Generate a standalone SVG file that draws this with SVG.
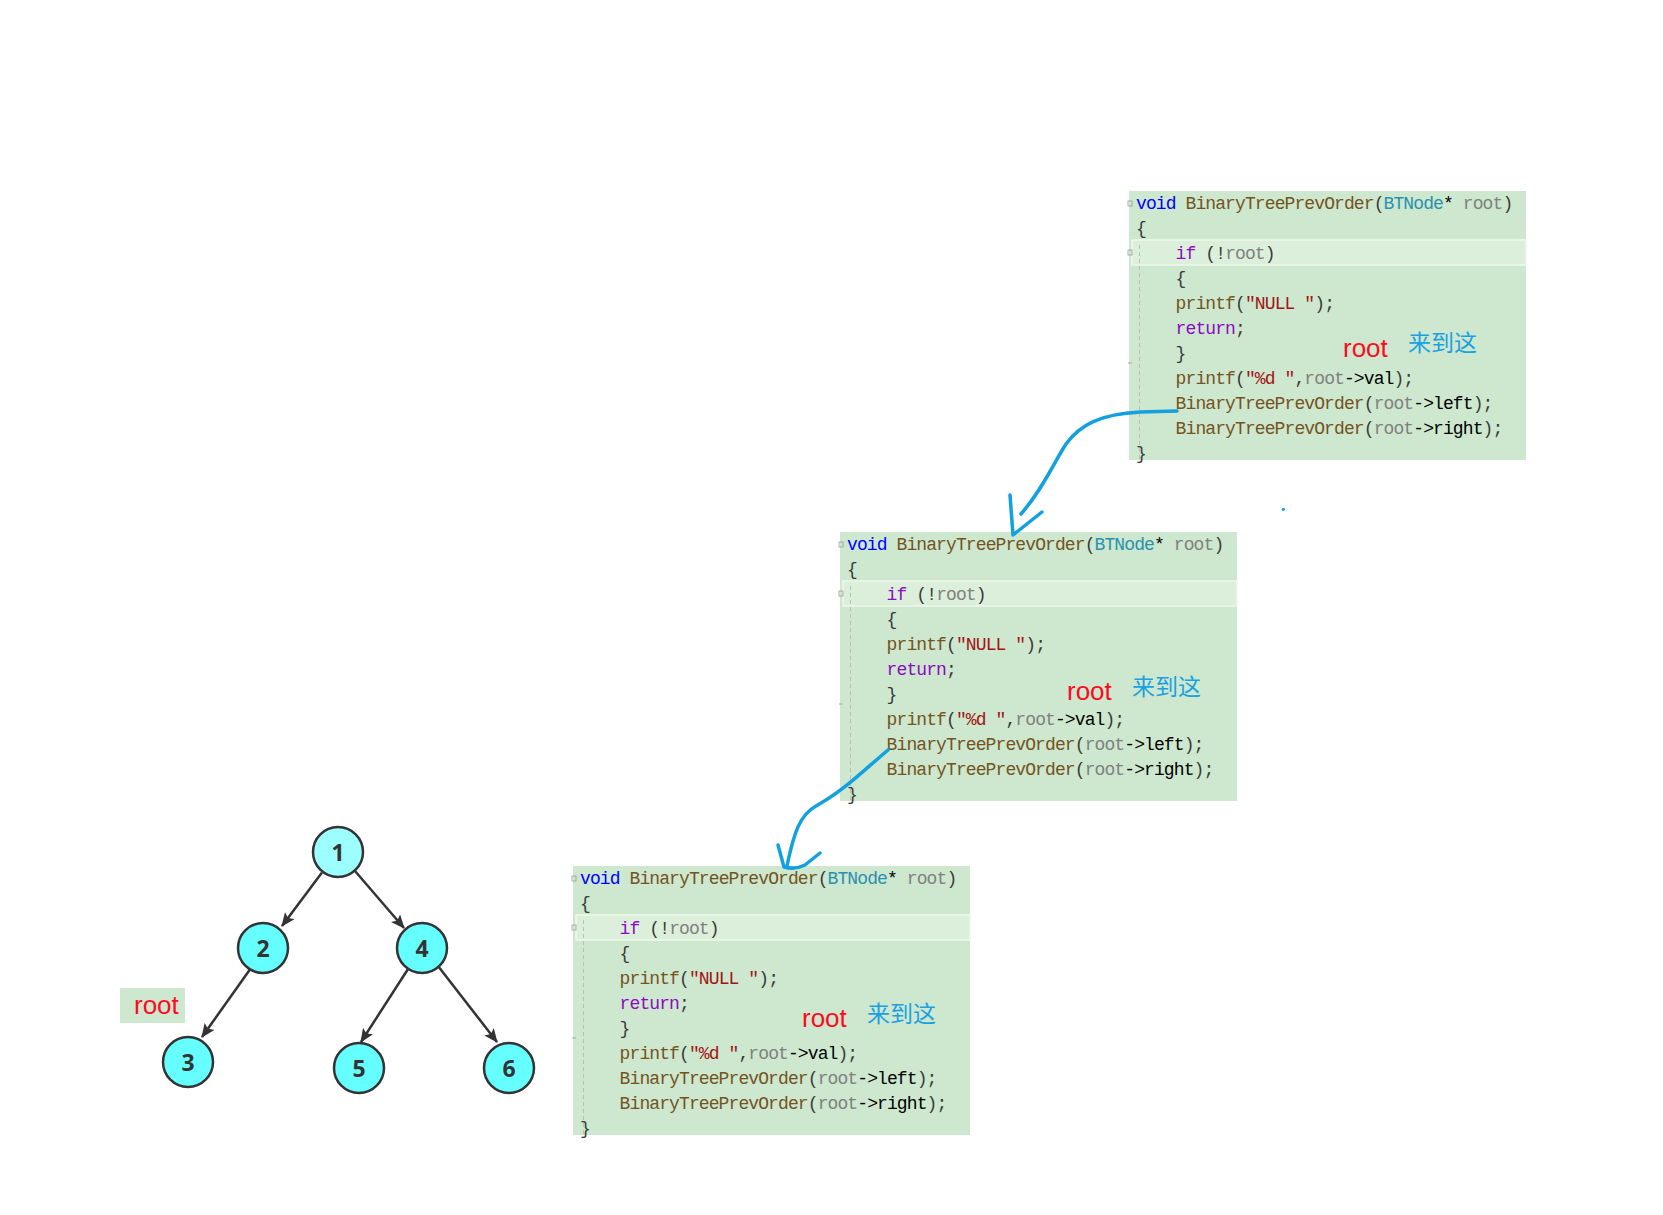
<svg xmlns="http://www.w3.org/2000/svg" width="1663" height="1215" viewBox="0 0 1663 1215">
<style>
.bg{fill:#cde8ce}
.hl{fill:#dcefdb;stroke:#eef7ec;stroke-width:1.5}
.guide{stroke:#bdbdbd;stroke-width:1;stroke-dasharray:4 3}
.fold{fill:none;stroke:#9a9a9a;stroke-width:0.8}
.code{font-family:"Liberation Mono",monospace;font-size:18px;letter-spacing:-0.9px;fill:#3a3a3a}
.kw{fill:#0000ff}
.ctl{fill:#8f08c4}
.fn{fill:#74531f}
.ty{fill:#2b91af}
.pr{fill:#808080}
.st{fill:#a31515}
.blk{fill:#000}
.rt{font-family:"Liberation Sans",Arial,sans-serif;font-size:26px;fill:#ff0a1e}
.cn{font-family:"Noto Sans CJK SC",sans-serif;font-size:23px;fill:#1ba1e2}
.node{stroke:#333;stroke-width:2.5}
.num{font-family:"Open Sans",sans-serif;font-weight:700;font-size:23px;fill:#333;text-anchor:middle}
.edge{stroke:#333;stroke-width:2.5;fill:none}
.pen{stroke:#12a0e0;stroke-width:3.5;fill:none;stroke-linecap:round;stroke-linejoin:round}
</style>
<defs>
<marker id="ah" markerUnits="userSpaceOnUse" markerWidth="14" markerHeight="12" refX="13" refY="6" orient="auto">
<path d="M0,0 L14,6 L0,12 L3,6 z" fill="#333"/>
</marker>
</defs>
<rect width="1663" height="1215" fill="#ffffff"/>

<g id="frame1" transform="translate(1129,191)">
<rect class="bg" width="397" height="269"/>
<rect class="hl" x="3" y="49" width="394" height="25"/>
<line class="guide" x1="10.5" y1="54" x2="10.5" y2="269"/>
<rect class="fold" x="-1" y="10" width="4" height="5"/>
<rect class="fold" x="-1" y="59" width="4" height="5"/>
<line class="fold" x1="-1" y1="172" x2="3" y2="172"/>
<text class="code" x="7" y="18"><tspan class="kw">void</tspan> <tspan class="fn">BinaryTreePrevOrder</tspan>(<tspan class="ty">BTNode</tspan><tspan class="blk">*</tspan> <tspan class="pr">root</tspan>)</text>
<text class="code" x="7" y="43">{</text>
<text class="code" x="46.6" y="68"><tspan class="ctl">if</tspan> (!<tspan class="pr">root</tspan>)</text>
<text class="code" x="46.6" y="93">{</text>
<text class="code" x="46.6" y="118"><tspan class="fn">printf</tspan>(<tspan class="st">"NULL "</tspan>);</text>
<text class="code" x="46.6" y="143"><tspan class="ctl">return</tspan>;</text>
<text class="code" x="46.6" y="168">}</text>
<text class="code" x="46.6" y="193"><tspan class="fn">printf</tspan>(<tspan class="st">"%d "</tspan>,<tspan class="pr">root</tspan><tspan class="blk">-&gt;val</tspan>);</text>
<text class="code" x="46.6" y="218"><tspan class="fn">BinaryTreePrevOrder</tspan>(<tspan class="pr">root</tspan><tspan class="blk">-&gt;left</tspan>);</text>
<text class="code" x="46.6" y="243"><tspan class="fn">BinaryTreePrevOrder</tspan>(<tspan class="pr">root</tspan><tspan class="blk">-&gt;right</tspan>);</text>
<text class="code" x="7" y="268">}</text>
<text class="rt" x="214" y="166">root</text>
<text class="cn" x="279" y="160">来到这</text>
</g>

<g id="frame2" transform="translate(840,532)">
<rect class="bg" width="397" height="269"/>
<rect class="hl" x="3" y="49" width="394" height="25"/>
<line class="guide" x1="10.5" y1="54" x2="10.5" y2="269"/>
<rect class="fold" x="-1" y="10" width="4" height="5"/>
<rect class="fold" x="-1" y="59" width="4" height="5"/>
<line class="fold" x1="-1" y1="172" x2="3" y2="172"/>
<text class="code" x="7" y="18"><tspan class="kw">void</tspan> <tspan class="fn">BinaryTreePrevOrder</tspan>(<tspan class="ty">BTNode</tspan><tspan class="blk">*</tspan> <tspan class="pr">root</tspan>)</text>
<text class="code" x="7" y="43">{</text>
<text class="code" x="46.6" y="68"><tspan class="ctl">if</tspan> (!<tspan class="pr">root</tspan>)</text>
<text class="code" x="46.6" y="93">{</text>
<text class="code" x="46.6" y="118"><tspan class="fn">printf</tspan>(<tspan class="st">"NULL "</tspan>);</text>
<text class="code" x="46.6" y="143"><tspan class="ctl">return</tspan>;</text>
<text class="code" x="46.6" y="168">}</text>
<text class="code" x="46.6" y="193"><tspan class="fn">printf</tspan>(<tspan class="st">"%d "</tspan>,<tspan class="pr">root</tspan><tspan class="blk">-&gt;val</tspan>);</text>
<text class="code" x="46.6" y="218"><tspan class="fn">BinaryTreePrevOrder</tspan>(<tspan class="pr">root</tspan><tspan class="blk">-&gt;left</tspan>);</text>
<text class="code" x="46.6" y="243"><tspan class="fn">BinaryTreePrevOrder</tspan>(<tspan class="pr">root</tspan><tspan class="blk">-&gt;right</tspan>);</text>
<text class="code" x="7" y="268">}</text>
<text class="rt" x="227" y="168">root</text>
<text class="cn" x="292" y="163">来到这</text>
</g>

<g id="frame3" transform="translate(573,866)">
<rect class="bg" width="397" height="269"/>
<rect class="hl" x="3" y="49" width="394" height="25"/>
<line class="guide" x1="10.5" y1="54" x2="10.5" y2="269"/>
<rect class="fold" x="-1" y="10" width="4" height="5"/>
<rect class="fold" x="-1" y="59" width="4" height="5"/>
<line class="fold" x1="-1" y1="172" x2="3" y2="172"/>
<text class="code" x="7" y="18"><tspan class="kw">void</tspan> <tspan class="fn">BinaryTreePrevOrder</tspan>(<tspan class="ty">BTNode</tspan><tspan class="blk">*</tspan> <tspan class="pr">root</tspan>)</text>
<text class="code" x="7" y="43">{</text>
<text class="code" x="46.6" y="68"><tspan class="ctl">if</tspan> (!<tspan class="pr">root</tspan>)</text>
<text class="code" x="46.6" y="93">{</text>
<text class="code" x="46.6" y="118"><tspan class="fn">printf</tspan>(<tspan class="st">"NULL "</tspan>);</text>
<text class="code" x="46.6" y="143"><tspan class="ctl">return</tspan>;</text>
<text class="code" x="46.6" y="168">}</text>
<text class="code" x="46.6" y="193"><tspan class="fn">printf</tspan>(<tspan class="st">"%d "</tspan>,<tspan class="pr">root</tspan><tspan class="blk">-&gt;val</tspan>);</text>
<text class="code" x="46.6" y="218"><tspan class="fn">BinaryTreePrevOrder</tspan>(<tspan class="pr">root</tspan><tspan class="blk">-&gt;left</tspan>);</text>
<text class="code" x="46.6" y="243"><tspan class="fn">BinaryTreePrevOrder</tspan>(<tspan class="pr">root</tspan><tspan class="blk">-&gt;right</tspan>);</text>
<text class="code" x="7" y="268">}</text>
<text class="rt" x="229" y="161">root</text>
<text class="cn" x="294" y="156">来到这</text>
</g>

<g id="connectors">
<line class="edge" x1="322" y1="872.5" x2="282" y2="926" marker-end="url(#ah)"/>
<line class="edge" x1="355" y1="871" x2="404" y2="928" marker-end="url(#ah)"/>
<line class="edge" x1="251" y1="968" x2="202" y2="1037" marker-end="url(#ah)"/>
<line class="edge" x1="408" y1="969" x2="361" y2="1042" marker-end="url(#ah)"/>
<line class="edge" x1="438" y1="966" x2="497" y2="1042" marker-end="url(#ah)"/>
<path class="pen" d="M1177,411 L1140,412 C1100,414 1080,425 1066,444 C1052,466 1042,490 1021,514"/>
<path class="pen" d="M1010,495 L1013,535 L1042,512"/>
<path class="pen" d="M888,750 C862,772 842,792 816,806 C800,815 794,832 787,866"/>
<path class="pen" d="M778,845 L784,867 Q795,870 805,865 L820,853"/>
<circle cx="1283.3" cy="509.3" r="1.6" fill="#12a0e0"/>
</g>

<g id="n1"><circle class="node" cx="338" cy="852" r="25" fill="#9cfefe"/><text class="num" x="338" y="861">1</text></g>
<g id="n2"><circle class="node" cx="263" cy="948" r="25" fill="#66ffff"/><text class="num" x="263" y="957">2</text></g>
<g id="n4"><circle class="node" cx="422" cy="948" r="25" fill="#66ffff"/><text class="num" x="422" y="957">4</text></g>
<g id="n3"><circle class="node" cx="188" cy="1062" r="25" fill="#66ffff"/><text class="num" x="188" y="1071">3</text></g>
<g id="n5"><circle class="node" cx="359" cy="1068" r="25" fill="#66ffff"/><text class="num" x="359" y="1077">5</text></g>
<g id="n6"><circle class="node" cx="509" cy="1068" r="25" fill="#66ffff"/><text class="num" x="509" y="1077">6</text></g>

<g id="rootlabel">
<rect x="120" y="988" width="65" height="35" fill="#cde8ce"/>
<text class="rt" x="134" y="1014">root</text>
</g>
</svg>
